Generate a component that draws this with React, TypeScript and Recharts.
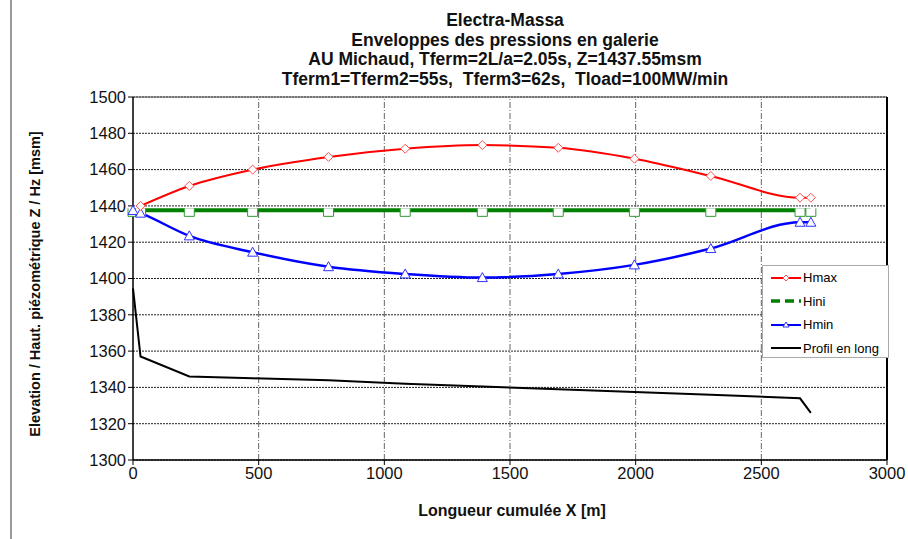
import React from 'react'
import { CartesianGrid, Line, LineChart, ReferenceLine, XAxis, YAxis } from 'recharts'

// distances cumulées des noeuds [m]
const xs = [0, 30, 224, 476, 778, 1083, 1390, 1692, 1995, 2299, 2654, 2697]
const hmax = [null, 1440, 1451, 1460, 1467, 1471.5, 1473.5, 1472, 1466, 1456.5, 1444.5, 1444.5]
const hini = [1437.55, 1437.55, 1437.55, 1437.55, 1437.55, 1437.55, 1437.55, 1437.55, 1437.55, 1437.55, 1437.55, 1437.55]
const hmin = [1437.5, 1436, 1423.5, 1414.5, 1406.5, 1402.5, 1400.5, 1402.5, 1407.5, 1416.5, 1431, 1431]
const profil = [1394.5, 1357, 1346, 1345, 1344, 1342, 1340.5, 1339, 1337.5, 1336, 1334, 1326]

const xTicks = [0, 500, 1000, 1500, 2000, 2500, 3000]
const yTicks = [1300, 1320, 1340, 1360, 1380, 1400, 1420, 1440, 1460, 1480, 1500]

const titleLines = [
  'Electra-Massa',
  'Enveloppes des pressions en galerie',
  'AU Michaud, Tferm=2L/a=2.05s, Z=1437.55msm',
  'Tferm1=Tferm2=55s,  Tferm3=62s,  Tload=100MW/min',
]

const rows = xs.map((x, i) => ({ x, hmax: hmax[i], hini: hini[i], hmin: hmin[i], profil: profil[i] }))

const FONT = '"Liberation Sans", Arial, sans-serif'

const Diamond = (p: any) => {
  const { cx, cy, index } = p
  if (cx == null || cy == null || p.value == null) return <g key={'d' + index} />
  const s = 4.5
  return (
    <polygon key={'d' + index} points={`${cx},${cy - s} ${cx + s},${cy} ${cx},${cy + s} ${cx - s},${cy}`}
      fill="#fff" stroke="#ff5050" strokeWidth={1} />
  )
}

const Triangle = (p: any) => {
  const { cx, cy, index } = p
  if (cx == null || cy == null) return <g key={'t' + index} />
  return (
    <polygon key={'t' + index} points={`${cx},${cy - 5} ${cx + 5},${cy + 4} ${cx - 5},${cy + 4}`}
      fill="#fff" stroke="#3030ff" strokeWidth={1} />
  )
}

// carré ouvert : la ligne épaisse masque le bord supérieur
const Square = (p: any) => {
  const { cx, cy, index } = p
  if (cx == null || cy == null) return <g key={'s' + index} />
  return (
    <path key={'s' + index} d={`M${cx - 5},${cy - 2} V${cy + 6} H${cx + 5} V${cy - 2}`}
      fill="#fff" stroke="#339933" strokeWidth={1} />
  )
}

function LegendBox() {
  const item = (label: string, sample: React.ReactNode) => (
    <div style={{ display: 'flex', alignItems: 'center', height: 23.5 }}>
      <svg width={34} height={12} style={{ marginLeft: 6 }}>{sample}</svg>
      <span>{label}</span>
    </div>
  )
  return (
    <div style={{ position: 'absolute', left: 762, top: 265, width: 127, height: 93, background: '#fff',
      border: '1px solid #aaa', boxSizing: 'border-box', fontFamily: FONT, fontSize: 13 }}>
      {item('Hmax', <g><line x1={2} y1={6} x2={32} y2={6} stroke="#f00" strokeWidth={2} />
        <polygon points="17,3 20,6 17,9 14,6" fill="#fff" stroke="#ff5050" /></g>)}
      {item('Hini', <line x1={2} y1={6} x2={32} y2={6} stroke="#008000" strokeWidth={3.5} strokeDasharray="9 5" />)}
      {item('Hmin', <g><line x1={2} y1={6} x2={32} y2={6} stroke="#00f" strokeWidth={2} />
        <polygon points="17,3 20,8 14,8" fill="#fff" stroke="#3030ff" /></g>)}
      {item('Profil en long', <line x1={2} y1={6} x2={32} y2={6} stroke="#000" strokeWidth={2} />)}
    </div>
  )
}

export default function App() {
  return (
    <div style={{ position: 'absolute', left: 0, top: 0, width: 908, height: 539, background: '#fff', fontFamily: FONT }}>
      <div style={{ position: 'absolute', left: 10, top: 0, width: 2, height: 539, background: '#999' }} />
      {titleLines.map((t, i) => (
        <div key={t} style={{ position: 'absolute', left: 0, width: 1010, top: 10 + i * 19.7, textAlign: 'center',
          fontWeight: 'bold', fontSize: 17.5, lineHeight: '20px', color: '#111', whiteSpace: 'pre' }}>{t}</div>
      ))}
      <LineChart width={908} height={539} data={rows} margin={{ top: 97, right: 21, bottom: 39, left: 73 }}>
        <CartesianGrid vertical={false} stroke="#222" strokeDasharray="2 1" />
        {xTicks.slice(1, -1).map((v) => (
          <ReferenceLine key={v} x={v} stroke="#666" strokeDasharray="6 2 1 2" />
        ))}
        <ReferenceLine y={1500} stroke="#555" />
        <ReferenceLine x={3000} stroke="#000" strokeWidth={2} />
        <XAxis dataKey="x" type="number" domain={[0, 3000]} ticks={xTicks} height={40}
          tick={{ fill: '#111', fontSize: 16.5, fontFamily: FONT }} tickSize={5}
          axisLine={{ stroke: '#000', strokeWidth: 1.5 }} tickLine={{ stroke: '#000' }} />
        <YAxis type="number" domain={[1300, 1500]} ticks={yTicks} width={60} interval={0}
          tick={{ fill: '#111', fontSize: 16.5, fontFamily: FONT }} tickSize={5}
          axisLine={{ stroke: '#000', strokeWidth: 1.5 }} tickLine={{ stroke: '#000' }} />
        <Line dataKey="profil" stroke="#000" strokeWidth={2} dot={false} type="linear" isAnimationActive={false} />
        <Line dataKey="hini" stroke="#008000" strokeWidth={4} dot={Square} type="linear" isAnimationActive={false} />
        <Line dataKey="hmin" stroke="#0000ff" strokeWidth={2.5} dot={Triangle} type="monotone" isAnimationActive={false} />
        <Line dataKey="hmax" stroke="#ff0000" strokeWidth={2} dot={Diamond} type="monotone" isAnimationActive={false} />
      </LineChart>
      <LegendBox />
      <div style={{ position: 'absolute', left: 512, top: 502, transform: 'translateX(-50%)', fontWeight: 'bold',
        fontSize: 16, whiteSpace: 'nowrap', color: '#111' }}>Longueur cumulée X [m]</div>
      <div style={{ position: 'absolute', left: 35, top: 284, transform: 'translate(-50%, -50%) rotate(-90deg)',
        fontWeight: 'bold', fontSize: 14.5, whiteSpace: 'nowrap', color: '#111' }}>
        Elevation / Haut. piézométrique Z / Hz [msm]
      </div>
    </div>
  )
}
